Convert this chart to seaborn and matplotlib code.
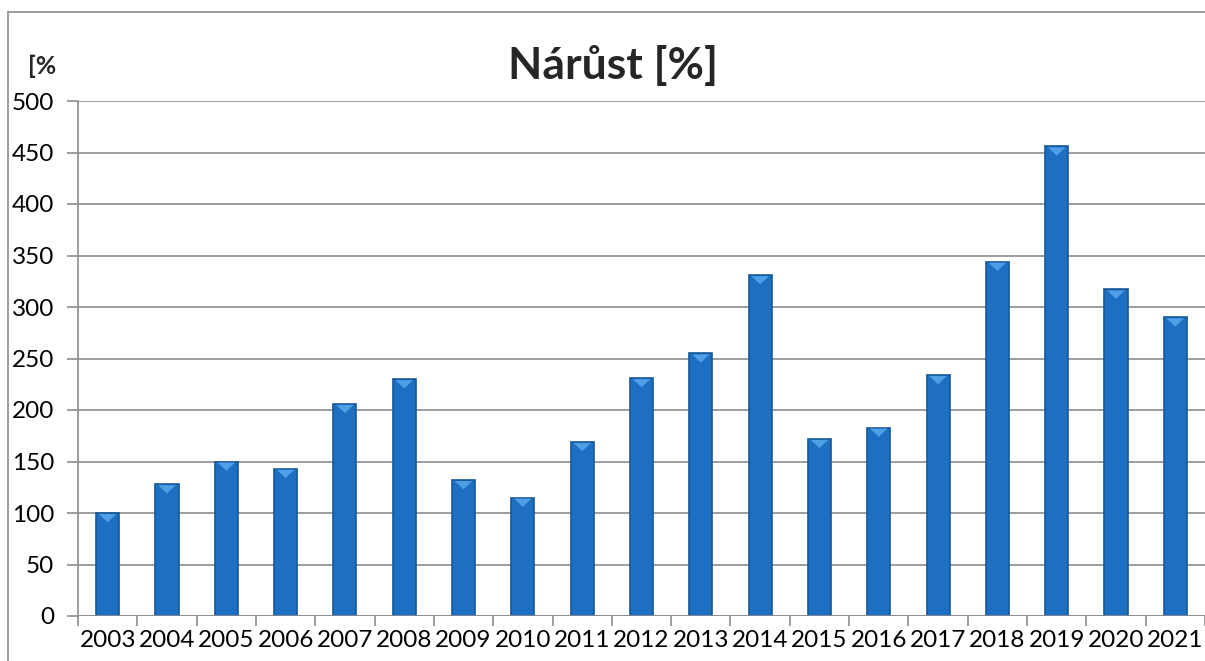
import matplotlib
matplotlib.use("Agg")
import matplotlib.pyplot as plt
import seaborn as sns
import pandas as pd
from matplotlib.lines import Line2D
from matplotlib.ticker import FixedLocator

years = [str(y) for y in range(2003, 2022)]
growth = [100, 128, 150, 143, 206, 230, 132, 115, 169, 231, 255, 331,
          172, 183, 234, 344, 456, 317, 290]
yticks = [0, 50, 100, 150, 200, 250, 300, 350, 400, 450, 500]

sns.set_theme(style="white")
plt.rcParams["font.family"] = ["Lato", "DejaVu Sans"]

df = pd.DataFrame({"year": years, "growth": growth})

fig = plt.figure(figsize=(12.05, 6.61), dpi=100)
ax = fig.add_axes([78 / 1205, 1 - 616 / 661, 1 - 78 / 1205, (616 - 101) / 661])

sns.barplot(data=df, x="year", y="growth", color="#1d6fc2", width=0.39,
            edgecolor="#16589a", linewidth=1.2, saturation=1, ax=ax)

# light top cap like the bevelled Excel bars
for p in ax.patches:
    x0, w, h = p.get_x(), p.get_width(), p.get_height()
    ax.fill([x0 + w * 0.12, x0 + w * 0.88, x0 + w * 0.5], [h - 1, h - 1, h - 9],
            color="#4f9fe6", zorder=3, lw=0)

ax.set_ylim(0, 500)
ax.set_xlim(-0.5, len(years) - 0.5)
ax.set_yticks(yticks)
ax.grid(axis="y", color="#8c8c8c", linewidth=1.2)
ax.set_axisbelow(True)
ax.set_xlabel("")
ax.set_ylabel("")

for side in ["top", "right", "bottom"]:
    ax.spines[side].set_visible(False)
ax.spines["left"].set_color("#8c8c8c")
ax.spines["left"].set_linewidth(1.2)
ax.axhline(0, color="#8c8c8c", linewidth=1.2, zorder=4)

ax.xaxis.set_minor_locator(FixedLocator([i + 0.5 for i in range(-1, len(years))]))
ax.tick_params(axis="x", which="major", length=0, labelsize=17.5, pad=10, colors="black")
ax.tick_params(axis="x", which="minor", bottom=True, length=7, width=1.2, color="#8c8c8c")
ax.tick_params(axis="y", left=True, length=8, width=1.2, color="#8c8c8c",
               labelsize=17.5, pad=9, labelcolor="black")

fig.text(613 / 1205, 1 - 66 / 661, "Nárůst [%]", ha="center", va="center",
         fontsize=32, fontweight="bold")
fig.text(28 / 1205, 1 - 66 / 661, "[%", ha="left", va="center",
         fontsize=18, fontweight="bold")

# outer chart frame (cropped at right and bottom)
fig.add_artist(Line2D([8 / 1205, 8 / 1205], [0, 1 - 12 / 661],
                      transform=fig.transFigure, color="#8c8c8c", lw=1.2))
fig.add_artist(Line2D([8 / 1205, 1], [1 - 12 / 661, 1 - 12 / 661],
                      transform=fig.transFigure, color="#8c8c8c", lw=1.2))

fig.savefig("out.png", dpi=100)
